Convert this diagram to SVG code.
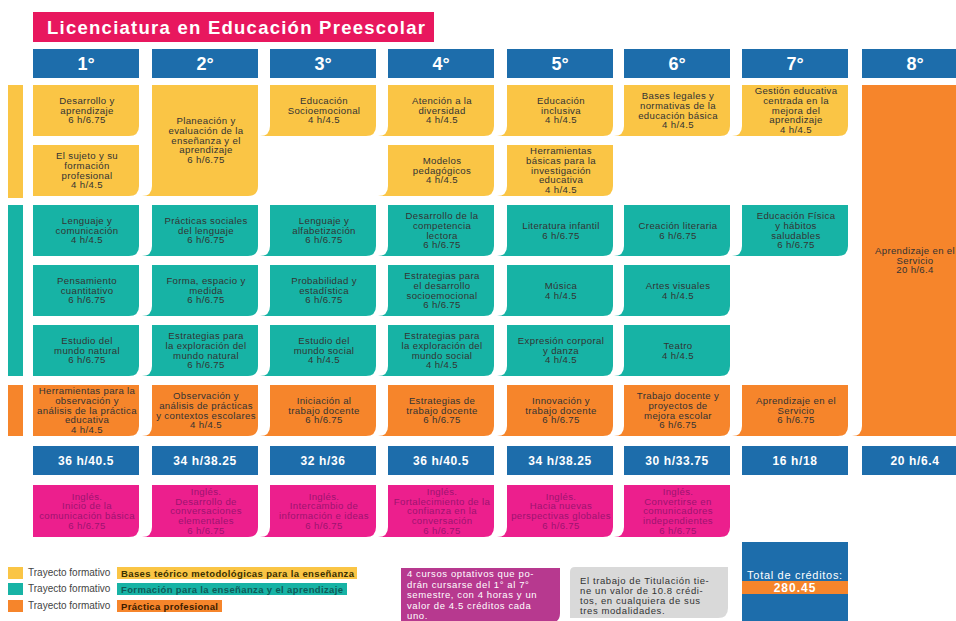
<svg xmlns="http://www.w3.org/2000/svg" width="956" height="621" viewBox="0 0 956 621">
<style>
.bg{fill:#ffffff}
.hd{fill:#1d6dab}
.yl{fill:#fac545}
.tl{fill:#17b3a5}
.or{fill:#f6852b}
.pk{fill:#ec1f8d}
.ttl{fill:#e8175e}
text{font-family:"Liberation Sans",Arial,sans-serif}
.h{font-size:18px;font-weight:bold;fill:#fff;text-anchor:middle}
.tot{font-size:12px;font-weight:bold;fill:#fff;text-anchor:middle;letter-spacing:0.6px}
.t{font-size:9.6px;fill:#333;text-anchor:middle;letter-spacing:0.35px}
.tp{font-size:9.6px;fill:#9c1470;text-anchor:middle;letter-spacing:0.35px}
.lg{font-size:10px;fill:#444}
.lb{font-size:9.5px;font-weight:bold}
.nt{font-size:9.5px;letter-spacing:0.6px}
</style>
<rect class="bg" x="0" y="0" width="956" height="621"/>

<g id="title">
<rect class="ttl" x="33" y="12" width="401" height="30"/>
<text x="47" y="34" font-size="18.5" font-weight="bold" fill="#fff" textLength="378" lengthAdjust="spacing">Licenciatura en Educación Preescolar</text>
</g>

<g id="headers">
<rect class="hd" x="33" y="49" width="106" height="29"/><text class="h" x="86" y="70">1°</text>
<rect class="hd" x="152" y="49" width="106" height="29"/><text class="h" x="205" y="70">2°</text>
<rect class="hd" x="270" y="49" width="106" height="29"/><text class="h" x="323" y="70">3°</text>
<rect class="hd" x="388" y="49" width="106" height="29"/><text class="h" x="441" y="70">4°</text>
<rect class="hd" x="507" y="49" width="106" height="29"/><text class="h" x="560" y="70">5°</text>
<rect class="hd" x="624" y="49" width="106" height="29"/><text class="h" x="677" y="70">6°</text>
<rect class="hd" x="742" y="49" width="106" height="29"/><text class="h" x="795" y="70">7°</text>
<rect class="hd" x="862" y="49" width="106" height="29"/><text class="h" x="915" y="70">8°</text>
</g>

<g id="side-bars">
<rect class="yl" x="8" y="85" width="15" height="113"/>
<rect class="tl" x="8" y="205" width="15" height="171"/>
<rect class="or" x="8" y="385" width="15" height="51"/>
</g>

<!-- Bases teórico metodológicas -->
<g id="y-c1-r1"><path class="yl" d="M33 85H139V126Q139 136 129 136H33Z"/>
<text class="t" x="87" y="104"><tspan x="87">Desarrollo y</tspan><tspan x="87" dy="9.7">aprendizaje</tspan><tspan x="87" dy="9.7">6 h/6.75</tspan></text></g>
<g id="y-c1-r2"><path class="yl" d="M33 145H139V186Q139 196 129 196H33Z"/>
<text class="t" x="87" y="159.15"><tspan x="87">El sujeto y su</tspan><tspan x="87" dy="9.7">formación</tspan><tspan x="87" dy="9.7">profesional</tspan><tspan x="87" dy="9.7">4 h/4.5</tspan></text></g>
<g id="y-c2"><path class="yl" d="M152 85H258V186Q258 196 248 196H142Q152 196 152 186Z"/>
<text class="t" x="206" y="124.3"><tspan x="206">Planeación y</tspan><tspan x="206" dy="9.7">evaluación de la</tspan><tspan x="206" dy="9.7">enseñanza y el</tspan><tspan x="206" dy="9.7">aprendizaje</tspan><tspan x="206" dy="9.7">6 h/6.75</tspan></text></g>
<g id="y-c3"><path class="yl" d="M270 85H376V126Q376 136 366 136H260Q270 136 270 126Z"/>
<text class="t" x="324" y="104"><tspan x="324">Educación</tspan><tspan x="324" dy="9.7">Socioemocional</tspan><tspan x="324" dy="9.7">4 h/4.5</tspan></text></g>
<g id="y-c4-r1"><path class="yl" d="M388 85H494V126Q494 136 484 136H378Q388 136 388 126Z"/>
<text class="t" x="442" y="104"><tspan x="442">Atención a la</tspan><tspan x="442" dy="9.7">diversidad</tspan><tspan x="442" dy="9.7">4 h/4.5</tspan></text></g>
<g id="y-c4-r2"><path class="yl" d="M388 145H494V186Q494 196 484 196H378Q388 196 388 186Z"/>
<text class="t" x="442" y="164"><tspan x="442">Modelos</tspan><tspan x="442" dy="9.7">pedagógicos</tspan><tspan x="442" dy="9.7">4 h/4.5</tspan></text></g>
<g id="y-c5-r1"><path class="yl" d="M507 85H613V126Q613 136 603 136H497Q507 136 507 126Z"/>
<text class="t" x="561" y="104"><tspan x="561">Educación</tspan><tspan x="561" dy="9.7">inclusiva</tspan><tspan x="561" dy="9.7">4 h/4.5</tspan></text></g>
<g id="y-c5-r2"><path class="yl" d="M507 145H613V186Q613 196 603 196H497Q507 196 507 186Z"/>
<text class="t" x="561" y="154.3"><tspan x="561">Herramientas</tspan><tspan x="561" dy="9.7">básicas para la</tspan><tspan x="561" dy="9.7">investigación</tspan><tspan x="561" dy="9.7">educativa</tspan><tspan x="561" dy="9.7">4 h/4.5</tspan></text></g>
<g id="y-c6"><path class="yl" d="M624 85H730V126Q730 136 720 136H614Q624 136 624 126Z"/>
<text class="t" x="678" y="99.15"><tspan x="678">Bases legales y</tspan><tspan x="678" dy="9.7">normativas de la</tspan><tspan x="678" dy="9.7">educación básica</tspan><tspan x="678" dy="9.7">4 h/4.5</tspan></text></g>
<g id="y-c7"><path class="yl" d="M742 85H848V126Q848 136 838 136H732Q742 136 742 126Z"/>
<text class="t" x="796" y="94.3"><tspan x="796">Gestión educativa</tspan><tspan x="796" dy="9.7">centrada en la</tspan><tspan x="796" dy="9.7">mejora del</tspan><tspan x="796" dy="9.7">aprendizaje</tspan><tspan x="796" dy="9.7">4 h/4.5</tspan></text></g>

<!-- Formación para la enseñanza y el aprendizaje -->
<g id="t-c1-r1"><path class="tl" d="M33 205H139V246Q139 256 129 256H33Z"/>
<text class="t" x="87" y="224"><tspan x="87">Lenguaje y</tspan><tspan x="87" dy="9.7">comunicación</tspan><tspan x="87" dy="9.7">4 h/4.5</tspan></text></g>
<g id="t-c2-r1"><path class="tl" d="M152 205H258V246Q258 256 248 256H142Q152 256 152 246Z"/>
<text class="t" x="206" y="224"><tspan x="206">Prácticas sociales</tspan><tspan x="206" dy="9.7">del lenguaje</tspan><tspan x="206" dy="9.7">6 h/6.75</tspan></text></g>
<g id="t-c3-r1"><path class="tl" d="M270 205H376V246Q376 256 366 256H260Q270 256 270 246Z"/>
<text class="t" x="324" y="224"><tspan x="324">Lenguaje y</tspan><tspan x="324" dy="9.7">alfabetización</tspan><tspan x="324" dy="9.7">6 h/6.75</tspan></text></g>
<g id="t-c4-r1"><path class="tl" d="M388 205H494V246Q494 256 484 256H378Q388 256 388 246Z"/>
<text class="t" x="442" y="219.15"><tspan x="442">Desarrollo de la</tspan><tspan x="442" dy="9.7">competencia</tspan><tspan x="442" dy="9.7">lectora</tspan><tspan x="442" dy="9.7">6 h/6.75</tspan></text></g>
<g id="t-c5-r1"><path class="tl" d="M507 205H613V246Q613 256 603 256H497Q507 256 507 246Z"/>
<text class="t" x="561" y="228.85"><tspan x="561">Literatura infantil</tspan><tspan x="561" dy="9.7">6 h/6.75</tspan></text></g>
<g id="t-c6-r1"><path class="tl" d="M624 205H730V246Q730 256 720 256H614Q624 256 624 246Z"/>
<text class="t" x="678" y="228.85"><tspan x="678">Creación literaria</tspan><tspan x="678" dy="9.7">6 h/6.75</tspan></text></g>
<g id="t-c7-r1"><path class="tl" d="M742 205H848V246Q848 256 838 256H732Q742 256 742 246Z"/>
<text class="t" x="796" y="219.15"><tspan x="796">Educación Física</tspan><tspan x="796" dy="9.7">y hábitos</tspan><tspan x="796" dy="9.7">saludables</tspan><tspan x="796" dy="9.7">6 h/6.75</tspan></text></g>

<g id="t-c1-r2"><path class="tl" d="M33 265H139V306Q139 316 129 316H33Z"/>
<text class="t" x="87" y="284"><tspan x="87">Pensamiento</tspan><tspan x="87" dy="9.7">cuantitativo</tspan><tspan x="87" dy="9.7">6 h/6.75</tspan></text></g>
<g id="t-c2-r2"><path class="tl" d="M152 265H258V306Q258 316 248 316H142Q152 316 152 306Z"/>
<text class="t" x="206" y="284"><tspan x="206">Forma, espacio y</tspan><tspan x="206" dy="9.7">medida</tspan><tspan x="206" dy="9.7">6 h/6.75</tspan></text></g>
<g id="t-c3-r2"><path class="tl" d="M270 265H376V306Q376 316 366 316H260Q270 316 270 306Z"/>
<text class="t" x="324" y="284"><tspan x="324">Probabilidad y</tspan><tspan x="324" dy="9.7">estadística</tspan><tspan x="324" dy="9.7">6 h/6.75</tspan></text></g>
<g id="t-c4-r2"><path class="tl" d="M388 265H494V306Q494 316 484 316H378Q388 316 388 306Z"/>
<text class="t" x="442" y="279.15"><tspan x="442">Estrategias para</tspan><tspan x="442" dy="9.7">el desarrollo</tspan><tspan x="442" dy="9.7">socioemocional</tspan><tspan x="442" dy="9.7">6 h/6.75</tspan></text></g>
<g id="t-c5-r2"><path class="tl" d="M507 265H613V306Q613 316 603 316H497Q507 316 507 306Z"/>
<text class="t" x="561" y="288.85"><tspan x="561">Música</tspan><tspan x="561" dy="9.7">4 h/4.5</tspan></text></g>
<g id="t-c6-r2"><path class="tl" d="M624 265H730V306Q730 316 720 316H614Q624 316 624 306Z"/>
<text class="t" x="678" y="288.85"><tspan x="678">Artes visuales</tspan><tspan x="678" dy="9.7">4 h/4.5</tspan></text></g>

<g id="t-c1-r3"><path class="tl" d="M33 325H139V366Q139 376 129 376H33Z"/>
<text class="t" x="87" y="344"><tspan x="87">Estudio del</tspan><tspan x="87" dy="9.7">mundo natural</tspan><tspan x="87" dy="9.7">6 h/6.75</tspan></text></g>
<g id="t-c2-r3"><path class="tl" d="M152 325H258V366Q258 376 248 376H142Q152 376 152 366Z"/>
<text class="t" x="206" y="339.15"><tspan x="206">Estrategias para</tspan><tspan x="206" dy="9.7">la exploración del</tspan><tspan x="206" dy="9.7">mundo natural</tspan><tspan x="206" dy="9.7">6 h/6.75</tspan></text></g>
<g id="t-c3-r3"><path class="tl" d="M270 325H376V366Q376 376 366 376H260Q270 376 270 366Z"/>
<text class="t" x="324" y="344"><tspan x="324">Estudio del</tspan><tspan x="324" dy="9.7">mundo social</tspan><tspan x="324" dy="9.7">4 h/4.5</tspan></text></g>
<g id="t-c4-r3"><path class="tl" d="M388 325H494V366Q494 376 484 376H378Q388 376 388 366Z"/>
<text class="t" x="442" y="339.15"><tspan x="442">Estrategias para</tspan><tspan x="442" dy="9.7">la exploración del</tspan><tspan x="442" dy="9.7">mundo social</tspan><tspan x="442" dy="9.7">4 h/4.5</tspan></text></g>
<g id="t-c5-r3"><path class="tl" d="M507 325H613V366Q613 376 603 376H497Q507 376 507 366Z"/>
<text class="t" x="561" y="344"><tspan x="561">Expresión corporal</tspan><tspan x="561" dy="9.7">y danza</tspan><tspan x="561" dy="9.7">4 h/4.5</tspan></text></g>
<g id="t-c6-r3"><path class="tl" d="M624 325H730V366Q730 376 720 376H614Q624 376 624 366Z"/>
<text class="t" x="678" y="348.85"><tspan x="678">Teatro</tspan><tspan x="678" dy="9.7">4 h/4.5</tspan></text></g>

<!-- Práctica profesional -->
<g id="o-c1"><path class="or" d="M33 385H139V426Q139 436 129 436H33Z"/>
<text class="t" x="87" y="394.3"><tspan x="87">Herramientas para la</tspan><tspan x="87" dy="9.7">observación y</tspan><tspan x="87" dy="9.7">análisis de la práctica</tspan><tspan x="87" dy="9.7">educativa</tspan><tspan x="87" dy="9.7">4 h/4.5</tspan></text></g>
<g id="o-c2"><path class="or" d="M152 385H258V426Q258 436 248 436H142Q152 436 152 426Z"/>
<text class="t" x="206" y="399.15"><tspan x="206">Observación y</tspan><tspan x="206" dy="9.7">análisis de prácticas</tspan><tspan x="206" dy="9.7">y contextos escolares</tspan><tspan x="206" dy="9.7">4 h/4.5</tspan></text></g>
<g id="o-c3"><path class="or" d="M270 385H376V426Q376 436 366 436H260Q270 436 270 426Z"/>
<text class="t" x="324" y="404"><tspan x="324">Iniciación al</tspan><tspan x="324" dy="9.7">trabajo docente</tspan><tspan x="324" dy="9.7">6 h/6.75</tspan></text></g>
<g id="o-c4"><path class="or" d="M388 385H494V426Q494 436 484 436H378Q388 436 388 426Z"/>
<text class="t" x="442" y="404"><tspan x="442">Estrategias de</tspan><tspan x="442" dy="9.7">trabajo docente</tspan><tspan x="442" dy="9.7">6 h/6.75</tspan></text></g>
<g id="o-c5"><path class="or" d="M507 385H613V426Q613 436 603 436H497Q507 436 507 426Z"/>
<text class="t" x="561" y="404"><tspan x="561">Innovación y</tspan><tspan x="561" dy="9.7">trabajo docente</tspan><tspan x="561" dy="9.7">6 h/6.75</tspan></text></g>
<g id="o-c6"><path class="or" d="M624 385H730V426Q730 436 720 436H614Q624 436 624 426Z"/>
<text class="t" x="678" y="399.15"><tspan x="678">Trabajo docente y</tspan><tspan x="678" dy="9.7">proyectos de</tspan><tspan x="678" dy="9.7">mejora escolar</tspan><tspan x="678" dy="9.7">6 h/6.75</tspan></text></g>
<g id="o-c7"><path class="or" d="M742 385H848V426Q848 436 838 436H732Q742 436 742 426Z"/>
<text class="t" x="796" y="404"><tspan x="796">Aprendizaje en el</tspan><tspan x="796" dy="9.7">Servicio</tspan><tspan x="796" dy="9.7">6 h/6.75</tspan></text></g>
<g id="o-c8"><path class="or" d="M862 85H968V426Q968 436 958 436H852Q862 436 862 426Z"/>
<text class="t" x="915" y="254"><tspan x="915">Aprendizaje en el</tspan><tspan x="915" dy="9.7">Servicio</tspan><tspan x="915" dy="9.7">20 h/6.4</tspan></text></g>

<g id="totals">
<rect class="hd" x="33" y="446" width="106" height="29"/><text class="tot" x="86" y="465">36 h/40.5</text>
<rect class="hd" x="152" y="446" width="106" height="29"/><text class="tot" x="205" y="465">34 h/38.25</text>
<rect class="hd" x="270" y="446" width="106" height="29"/><text class="tot" x="323" y="465">32 h/36</text>
<rect class="hd" x="388" y="446" width="106" height="29"/><text class="tot" x="441" y="465">36 h/40.5</text>
<rect class="hd" x="507" y="446" width="106" height="29"/><text class="tot" x="560" y="465">34 h/38.25</text>
<rect class="hd" x="624" y="446" width="106" height="29"/><text class="tot" x="677" y="465">30 h/33.75</text>
<rect class="hd" x="742" y="446" width="106" height="29"/><text class="tot" x="795" y="465">16 h/18</text>
<rect class="hd" x="862" y="446" width="106" height="29"/><text class="tot" x="915" y="465">20 h/6.4</text>
</g>

<!-- Inglés -->
<g id="p-c1"><path class="pk" d="M33 485H139V527Q139 537 129 537H33Z"/>
<text class="tp" x="87" y="499.65"><tspan x="87">Inglés.</tspan><tspan x="87" dy="9.7">Inicio de la</tspan><tspan x="87" dy="9.7">comunicación básica</tspan><tspan x="87" dy="9.7">6 h/6.75</tspan></text></g>
<g id="p-c2"><path class="pk" d="M152 485H258V527Q258 537 248 537H142Q152 537 152 527Z"/>
<text class="tp" x="206" y="494.8"><tspan x="206">Inglés.</tspan><tspan x="206" dy="9.7">Desarrollo de</tspan><tspan x="206" dy="9.7">conversaciones</tspan><tspan x="206" dy="9.7">elementales</tspan><tspan x="206" dy="9.7">6 h/6.75</tspan></text></g>
<g id="p-c3"><path class="pk" d="M270 485H376V527Q376 537 366 537H260Q270 537 270 527Z"/>
<text class="tp" x="324" y="499.65"><tspan x="324">Inglés.</tspan><tspan x="324" dy="9.7">Intercambio de</tspan><tspan x="324" dy="9.7">información e ideas</tspan><tspan x="324" dy="9.7">6 h/6.75</tspan></text></g>
<g id="p-c4"><path class="pk" d="M388 485H494V527Q494 537 484 537H378Q388 537 388 527Z"/>
<text class="tp" x="442" y="494.8"><tspan x="442">Inglés.</tspan><tspan x="442" dy="9.7">Fortalecimiento de la</tspan><tspan x="442" dy="9.7">confianza en la</tspan><tspan x="442" dy="9.7">conversación</tspan><tspan x="442" dy="9.7">6 h/6.75</tspan></text></g>
<g id="p-c5"><path class="pk" d="M507 485H613V527Q613 537 603 537H497Q507 537 507 527Z"/>
<text class="tp" x="561" y="499.65"><tspan x="561">Inglés.</tspan><tspan x="561" dy="9.7">Hacia nuevas</tspan><tspan x="561" dy="9.7">perspectivas globales</tspan><tspan x="561" dy="9.7">6 h/6.75</tspan></text></g>
<g id="p-c6"><path class="pk" d="M624 485H730V527Q730 537 720 537H614Q624 537 624 527Z"/>
<text class="tp" x="678" y="494.8"><tspan x="678">Inglés.</tspan><tspan x="678" dy="9.7">Convertirse en</tspan><tspan x="678" dy="9.7">comunicadores</tspan><tspan x="678" dy="9.7">independientes</tspan><tspan x="678" dy="9.7">6 h/6.75</tspan></text></g>

<g id="legend">
<rect class="yl" x="8" y="567" width="15" height="12"/>
<rect class="tl" x="8" y="583" width="15" height="12"/>
<rect class="or" x="8" y="600" width="15" height="12"/>
<text class="lg" x="28" y="576">Trayecto formativo</text>
<text class="lg" x="28" y="592">Trayecto formativo</text>
<text class="lg" x="28" y="609">Trayecto formativo</text>
<rect class="yl" x="117" y="567" width="240" height="12"/>
<rect class="tl" x="117" y="583" width="230" height="12"/>
<rect class="or" x="117" y="600" width="105" height="12"/>
<text class="lb" x="121" y="576.5" fill="#3a3000" textLength="233" lengthAdjust="spacing">Bases teórico metodológicas para la enseñanza</text>
<text class="lb" x="121" y="592.5" fill="#0f5a58" textLength="222" lengthAdjust="spacing">Formación para la enseñanza y el aprendizaje</text>
<text class="lb" x="121" y="609.5" fill="#3b1c00" textLength="97" lengthAdjust="spacing">Práctica profesional</text>
</g>

<g id="note-optativos">
<path d="M401 568H560V613Q560 623 550 623H401Z" fill="#b7398f"/>
<text class="nt" x="407" y="577" fill="#fff"><tspan x="407">4 cursos optativos que po-</tspan><tspan x="407" dy="10.5">drán cursarse del 1° al 7°</tspan><tspan x="407" dy="10.5">semestre, con 4 horas y un</tspan><tspan x="407" dy="10.5">valor de 4.5 créditos cada</tspan><tspan x="407" dy="10.5">uno.</tspan></text>
</g>

<g id="note-titulacion">
<path d="M575 567H728V608Q728 618 718 618H570V572Q570 567 575 567Z" fill="#d9d9d9"/>
<text class="nt" x="580" y="583.5" fill="#333"><tspan x="580">El trabajo de Titulación tie-</tspan><tspan x="580" dy="10">ne un valor de 10.8 crédi-</tspan><tspan x="580" dy="10">tos, en cualquiera de sus</tspan><tspan x="580" dy="10">tres modalidades.</tspan></text>
</g>

<g id="total-creditos">
<rect class="hd" x="742" y="542" width="106" height="80"/>
<rect class="or" x="742" y="581" width="106" height="13"/>
<text x="795" y="579" font-size="11" fill="#fff" text-anchor="middle" letter-spacing="0.7">Total de créditos:</text>
<text x="795" y="592" font-size="12" font-weight="bold" fill="#fff" text-anchor="middle" letter-spacing="1">280.45</text>
</g>
</svg>
